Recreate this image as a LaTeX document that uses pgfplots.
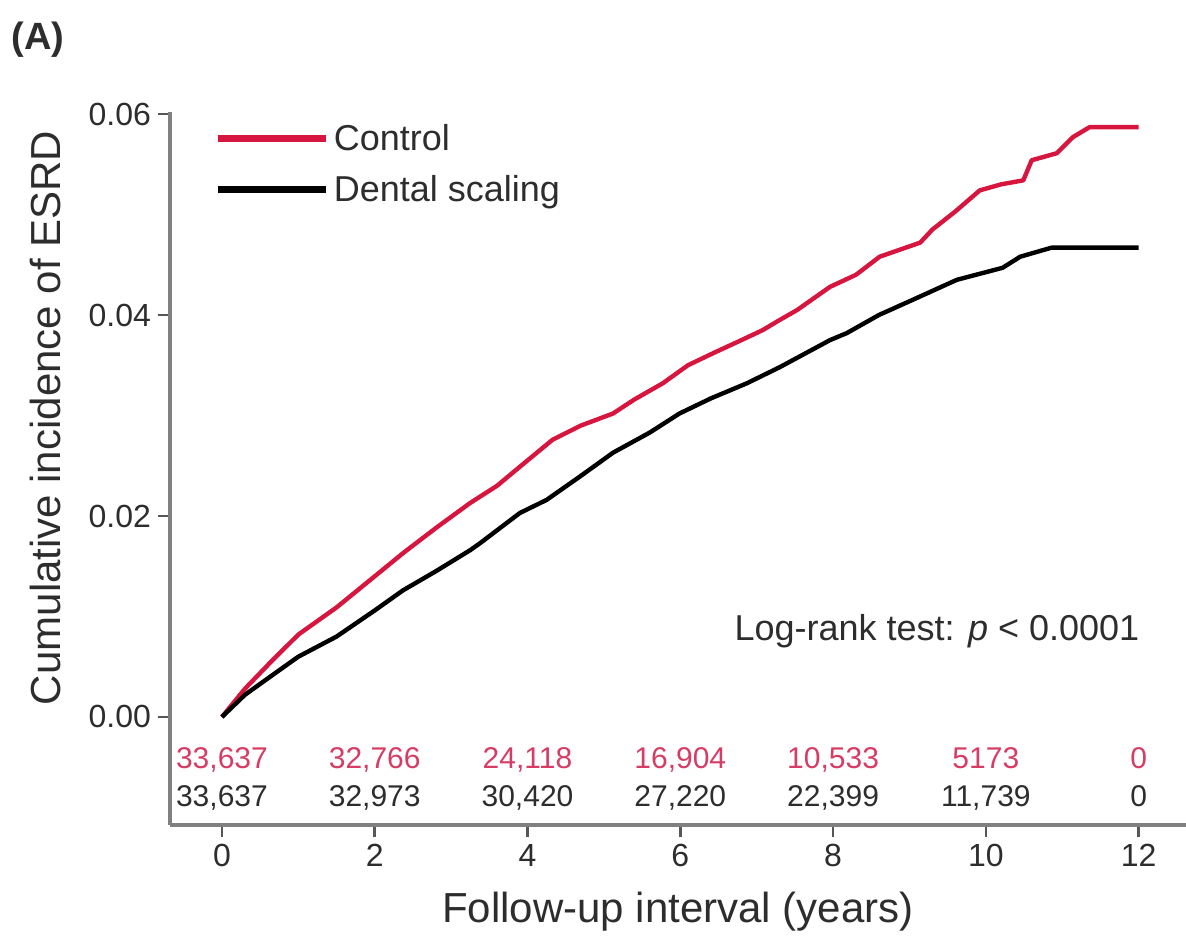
\documentclass[border=0pt]{standalone}
\usepackage{fontspec}
\setmainfont{Liberation Sans}
\usepackage{pgfplots}
\pgfplotsset{compat=1.18}
\definecolor{ctrl}{RGB}{214,22,62}
\definecolor{ctrlnum}{RGB}{214,60,100}
\definecolor{axgray}{RGB}{128,128,128}
\definecolor{txtgray}{RGB}{45,45,45}
\begin{document}
\begin{tikzpicture}
\begin{axis}[
  at={(0,0)}, anchor=south west,
  scale only axis, width=508pt, height=356.5pt,
  xmin=-0.68, xmax=12.62, ymin=-0.01075, ymax=0.0602,
  axis x line=bottom, axis y line=left,
  axis line style={-, draw=axgray, line width=2.2pt},
  tick align=outside, major tick length=6pt,
  tick style={draw=txtgray!80, line width=1.3pt},
  xtick={0,2,4,6,8,10,12},
  ytick={0,0.02,0.04,0.06},
  scaled y ticks=false,
  yticklabel style={/pgf/number format/fixed, /pgf/number format/fixed zerofill, /pgf/number format/precision=2},
  /pgf/number format/assume math mode=true,
  ticklabel style={font=\fontsize{16}{19}\selectfont, text=txtgray},
  xlabel={Follow-up interval (years)},
  ylabel={Cumulative incidence of ESRD},
  label style={font=\fontsize{21}{25}\selectfont, text=txtgray},
  xlabel style={at={(axis description cs:0.5,-0.122)}, anchor=center},
  ylabel style={at={(axis description cs:-0.123,0.571)}, anchor=center},
  clip=false,
  legend style={at={(axis description cs:0.038,0.995)}, anchor=north west, draw=none, fill=none,
    font=\fontsize{18}{21}\selectfont, text=txtgray, row sep=7pt},
  legend cell align=left,
  legend image code/.code={\draw[#1, line width=3.4pt] (0pt,0pt) -- (54pt,0pt);},
]
\addplot[ctrl, line width=2.2pt, line join=round] coordinates {
(0,0) (0.3,0.0028) (0.63,0.0054) (1.0,0.0082) (1.5,0.0109) (2.0,0.0140)
(2.37,0.0163) (2.8,0.0188) (3.25,0.0213) (3.6,0.0230) (3.9,0.0249)
(4.33,0.0276) (4.7,0.0290) (5.12,0.0302) (5.4,0.0316) (5.77,0.0332)
(6.1,0.0350) (6.43,0.0362) (6.8,0.0375) (7.08,0.0385) (7.3,0.0395)
(7.53,0.0405) (7.96,0.0428) (8.3,0.0440) (8.61,0.0458) (9.14,0.0472)
(9.3,0.0485) (9.6,0.0503) (9.92,0.0524) (10.2,0.0530) (10.49,0.0534)
(10.6,0.0554) (10.93,0.0561) (11.14,0.0577) (11.36,0.0587) (12.0,0.0587)
};
\addlegendentry{Control}
\addplot[black, line width=2.2pt, line join=round] coordinates {
(0,0) (0.3,0.0022) (0.63,0.0040) (1.0,0.0060) (1.5,0.0080) (2.0,0.0106)
(2.37,0.0126) (2.8,0.0145) (3.25,0.0166) (3.38,0.0173) (3.9,0.0203)
(4.25,0.0216) (4.7,0.0240) (5.12,0.0263) (5.6,0.0283) (5.99,0.0302)
(6.4,0.0317) (6.87,0.0332) (7.3,0.0348) (7.96,0.0375) (8.18,0.0382)
(8.6,0.0400) (9.04,0.0415) (9.62,0.0435) (10.22,0.0447) (10.45,0.0458)
(10.86,0.0467) (12.0,0.0467)
};
\addlegendentry{Dental scaling}
\addplot[draw=none, forget plot, nodes near coords, point meta=explicit symbolic,
  nodes near coords style={anchor=base, inner sep=0pt, text=ctrlnum, font=\fontsize{15}{18}\selectfont}]
  table[meta=lab, row sep=\\] {
  t y lab \\
  0 -0.0051 33,637 \\
  2 -0.0051 32,766 \\
  4 -0.0051 24,118 \\
  6 -0.0051 16,904 \\
  8 -0.0051 10,533 \\
  10 -0.0051 5173 \\
  12 -0.0051 0 \\
};
\addplot[draw=none, forget plot, nodes near coords, point meta=explicit symbolic,
  nodes near coords style={anchor=base, inner sep=0pt, text=txtgray, font=\fontsize{15}{18}\selectfont}]
  table[meta=lab, row sep=\\] {
  t y lab \\
  0 -0.0089 33,637 \\
  2 -0.0089 32,973 \\
  4 -0.0089 30,420 \\
  6 -0.0089 27,220 \\
  8 -0.0089 22,399 \\
  10 -0.0089 11,739 \\
  12 -0.0089 0 \\
};
\node[anchor=east, text=txtgray, font=\fontsize{18}{21}\selectfont] at (axis cs:12.1,0.0085) {Log-rank test: \textit{p} < 0.0001};
\end{axis}
\node[text=txtgray, font=\bfseries\fontsize{19}{22}\selectfont] at (-66pt,392.5pt) {(A)};
\pgfresetboundingbox
\path[use as bounding box] (-85pt,-56.5pt) rectangle (508pt,412.5pt);
\end{tikzpicture}
\end{document}
